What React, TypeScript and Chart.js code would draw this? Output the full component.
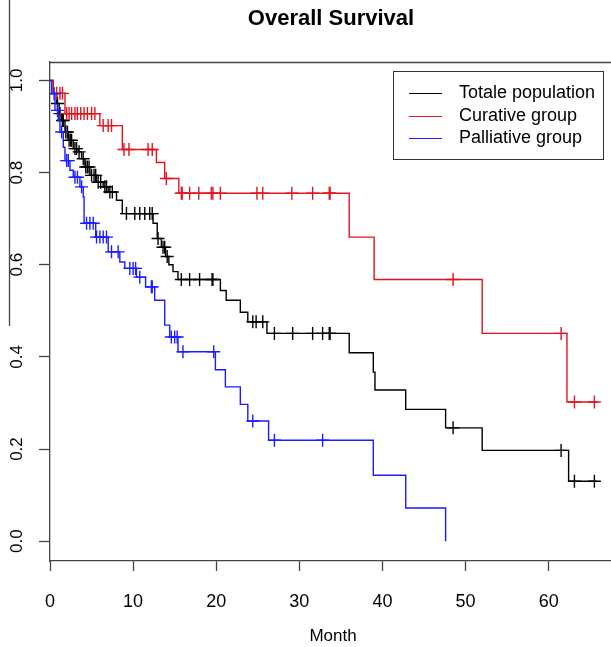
import { useEffect, useRef } from 'react';
import { Chart, registerables } from 'chart.js';

Chart.register(...registerables);

const TITLE = 'Overall Survival';
const X_LABEL = 'Month';
const SERIES_NAMES = ['Totale population', 'Curative group', 'Palliative group'];
const SERIES_COLORS = ['#000000', '#e0161e', '#1c1cff'];
const X_TICKS = [0, 10, 20, 30, 40, 50, 60];
const Y_TICKS = [0, 0.2, 0.4, 0.6, 0.8, 1.0];

// Totale population: event times (months) and survival after each step
const TOTAL_T = [0, 0.4, 0.8, 1.1, 1.4, 1.8, 2.2, 2.8, 3.4, 3.8, 4.2, 4.8, 5.6, 6.4, 7.0, 8.0, 8.7, 12.4, 12.9, 13.4, 13.9, 14.3, 14.8, 15.4, 20.5, 21.2, 22.9, 23.8, 26.1, 36.0, 38.9, 39.1, 42.8, 47.6, 52.0, 62.4, 65.8];
const TOTAL_S = [1.0, 0.972, 0.95, 0.928, 0.913, 0.888, 0.87, 0.852, 0.845, 0.83, 0.812, 0.794, 0.779, 0.769, 0.758, 0.74, 0.711, 0.69, 0.657, 0.638, 0.618, 0.6, 0.585, 0.568, 0.544, 0.523, 0.497, 0.476, 0.451, 0.409, 0.367, 0.328, 0.286, 0.246, 0.197, 0.13, 0.13];
const TOTAL_CENSOR = [0.9, 1.2, 1.5, 1.6, 1.9, 2.1, 2.3, 2.5, 2.6, 3.0, 3.2, 3.5, 4.0, 4.3, 4.5, 4.7, 5.0, 5.3, 5.5, 5.8, 6.1, 6.6, 6.8, 7.2, 7.5, 9.2, 10.2, 10.8, 11.4, 12.0, 12.3, 13.0, 13.6, 13.8, 14.1, 15.8, 16.8, 18.0, 19.5, 19.6, 24.4, 24.8, 25.6, 27.0, 29.2, 31.6, 32.8, 33.6, 33.7, 48.5, 61.5, 63.1, 65.5];

// Curative group
const CUR_T = [0, 0.4, 1.8, 6.0, 8.7, 12.8, 13.8, 15.5, 36.0, 39.0, 52.0, 62.2, 65.8];
const CUR_S = [1.0, 0.972, 0.928, 0.902, 0.85, 0.822, 0.787, 0.755, 0.66, 0.568, 0.451, 0.302, 0.302];
const CUR_CENSOR = [0.8, 1.2, 1.5, 2.0, 2.3, 2.6, 3.0, 3.3, 3.7, 4.1, 4.5, 5.0, 5.4, 6.4, 7.0, 7.4, 8.9, 9.5, 11.8, 12.3, 14.0, 15.8, 15.9, 16.8, 17.9, 19.4, 19.6, 20.5, 24.9, 25.6, 29.1, 31.6, 33.6, 33.7, 48.5, 61.5, 63.1, 65.5];

// Palliative group
const PAL_T = [0, 0.2, 0.6, 1.0, 1.2, 1.6, 1.8, 2.4, 2.8, 3.6, 4.0, 4.1, 5.5, 7.0, 8.4, 9.0, 10.4, 11.5, 12.6, 13.8, 14.4, 15.4, 19.9, 21.1, 22.9, 23.8, 26.3, 38.9, 42.8, 47.6];
const PAL_S = [1.0, 0.971, 0.935, 0.913, 0.888, 0.855, 0.826, 0.805, 0.79, 0.769, 0.747, 0.69, 0.66, 0.628, 0.606, 0.592, 0.573, 0.552, 0.523, 0.469, 0.443, 0.411, 0.372, 0.335, 0.297, 0.261, 0.219, 0.143, 0.072, 0.0];
const PAL_CENSOR = [0.5, 0.9, 1.4, 2.0, 2.2, 3.0, 3.3, 3.8, 4.4, 4.8, 5.2, 5.6, 6.0, 6.4, 6.8, 7.4, 8.2, 9.6, 10.0, 10.3, 10.8, 12.2, 12.3, 14.6, 15.0, 15.3, 16.0, 19.7, 24.4, 27.0, 32.8];

const FONT = '"Liberation Sans", Arial, Helvetica, sans-serif';

function stepPoints(T: number[], S: number[]) {
  return T.map((t, i) => ({ x: t, y: S[i] }));
}
function survAt(T: number[], S: number[], t: number) {
  let v = S[0];
  for (let i = 0; i < T.length; i++) if (T[i] <= t) v = S[i];
  return v;
}
function censorPoints(T: number[], S: number[], C: number[]) {
  return C.map((t) => ({ x: t, y: survAt(T, S, t) }));
}

const decorPlugin = {
  id: 'decor',
  afterDraw(chart: any) {
    const ctx = chart.ctx;
    const a = chart.chartArea;
    ctx.save();
    // top frame line
    ctx.strokeStyle = '#444';
    ctx.lineWidth = 1.3;
    ctx.beginPath();
    ctx.moveTo(a.left, a.top + 0.5);
    ctx.lineTo(a.right + 5, a.top + 0.5);
    ctx.stroke();
    // stray left line
    ctx.beginPath();
    ctx.moveTo(9.5, 0);
    ctx.lineTo(9.5, 326);
    ctx.stroke();
    // title
    ctx.fillStyle = '#000';
    ctx.textAlign = 'center';
    ctx.textBaseline = 'middle';
    ctx.font = `bold 22px ${FONT}`;
    ctx.fillText(TITLE, 331, 19);
    ctx.font = `17px ${FONT}`;
    ctx.fillText(X_LABEL, 333, 636);
    // legend
    ctx.strokeStyle = '#333';
    ctx.lineWidth = 1;
    ctx.strokeRect(393.5, 71.5, 210, 88);
    const rows = [93, 116, 138];
    ctx.font = `18px ${FONT}`;
    ctx.textAlign = 'left';
    SERIES_NAMES.forEach((name, i) => {
      ctx.strokeStyle = SERIES_COLORS[i];
      ctx.lineWidth = 1.2;
      ctx.beginPath();
      ctx.moveTo(409, rows[i] + 0.5);
      ctx.lineTo(442, rows[i] + 0.5);
      ctx.stroke();
      ctx.fillStyle = '#000';
      ctx.fillText(name, 459, rows[i]);
    });
    ctx.restore();
  },
};

export default function App() {
  const ref = useRef<HTMLCanvasElement | null>(null);
  useEffect(() => {
    if (!ref.current) return;
    const groups = [
      [TOTAL_T, TOTAL_S, TOTAL_CENSOR],
      [CUR_T, CUR_S, CUR_CENSOR],
      [PAL_T, PAL_S, PAL_CENSOR],
    ];
    const lineSets = groups.map((g, i) => ({
      label: SERIES_NAMES[i],
      data: stepPoints(g[0], g[1]),
      stepped: true as const,
      borderColor: SERIES_COLORS[i],
      borderWidth: 1.4,
      pointRadius: 0,
      fill: false,
      order: 3 - i,
    }));
    const censorSets = groups.map((g, i) => ({
      label: SERIES_NAMES[i] + ' censored',
      data: censorPoints(g[0], g[1], g[2]),
      showLine: false,
      pointStyle: 'cross' as const,
      pointRadius: 6.5,
      pointBorderWidth: 1.4,
      borderColor: SERIES_COLORS[i],
      backgroundColor: SERIES_COLORS[i],
      order: 3 - i,
    }));
    const chart = new Chart(ref.current, {
      type: 'line',
      data: { datasets: [...lineSets, ...censorSets] as any },
      options: {
        animation: false,
        responsive: false,
        devicePixelRatio: 1,
        layout: { autoPadding: false, padding: { top: 62, left: 0, right: 0, bottom: 0 } },
        plugins: { legend: { display: false }, tooltip: { enabled: false }, title: { display: false } },
        scales: {
          x: {
            type: 'linear',
            min: 0,
            max: 67.5,
            afterFit: (s: any) => { s.height = 86; s.paddingLeft = 0; s.paddingRight = 0; },
            afterBuildTicks: (s: any) => { s.ticks = X_TICKS.map((v) => ({ value: v })); },
            grid: { display: true, drawOnChartArea: false, drawTicks: true, tickLength: 10, tickColor: '#444', tickWidth: 1.3 },
            border: { display: true, color: '#444', width: 1.3 },
            ticks: { color: '#000', font: { family: FONT, size: 18 }, padding: 20, maxRotation: 0, callback: (v: any) => String(v) },
          },
          y: {
            type: 'linear',
            min: -0.043,
            max: 1.04,
            afterFit: (s: any) => { s.width = 50; s.paddingTop = 0; s.paddingBottom = 0; },
            afterBuildTicks: (s: any) => { s.ticks = Y_TICKS.map((v) => ({ value: v })); },
            grid: { display: true, drawOnChartArea: false, drawTicks: true, tickLength: 11, tickColor: '#444', tickWidth: 1.3 },
            border: { display: true, color: '#444', width: 1.3 },
            ticks: { color: '#000', font: { family: FONT, size: 17 }, padding: 10, minRotation: 90, maxRotation: 90, crossAlign: 'center', callback: (v: any) => Number(v).toFixed(1) },
          },
        },
      },
      plugins: [decorPlugin],
    });
    return () => chart.destroy();
  }, []);
  return (
    <div style={{ position: 'absolute', left: 0, top: 0, width: 611, height: 647, background: '#fff' }}>
      <canvas ref={ref} width={611} height={647} />
    </div>
  );
}
